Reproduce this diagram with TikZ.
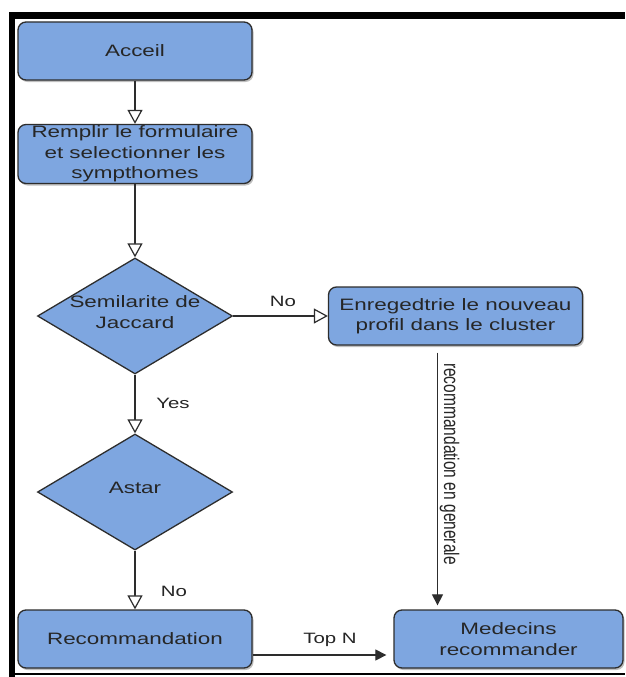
\documentclass[tikz,border=0pt]{standalone}
\usepackage{fontspec}
\usepackage{graphicx}
\setmainfont{Liberation Sans}[FakeStretch=1.36]
\newfontfamily\plainsans{Liberation Sans}
\usetikzlibrary{arrows.meta,shapes.geometric,shadows}

\definecolor{boxfill}{RGB}{126,166,224}
\definecolor{edge}{RGB}{45,45,45}
\definecolor{ink}{RGB}{38,38,38}

\tikzset{
  boxtext/.style={font=\fontsize{16.5}{20.5}\selectfont, text=ink, align=center},
  stepbox/.style={boxtext, draw=edge, line width=1.3pt, fill=boxfill,
    rounded corners=8pt, inner sep=0pt,
    drop shadow={shadow xshift=1.5pt, shadow yshift=-2pt, opacity=0.45, fill=black!55}},
  decision/.style={diamond, draw=edge, line width=1.3pt, fill=boxfill,
    inner sep=0pt, aspect=1.68, minimum width=195pt, minimum height=116pt},
  flowlabel/.style={font=\fontsize{15}{18}\selectfont, text=ink},
  openarrow/.style={draw=edge, line width=1.2pt,
    -{Triangle[open, length=14pt, width=15pt, fill=white]}},
  fillarrow/.style={draw=edge, line width=1.2pt,
    -{Triangle[length=11pt, width=11pt]}},
  frameline/.style={draw=black, line cap=butt}
}

\begin{document}
\begin{tikzpicture}[x=1pt, y=-1pt]
  \useasboundingbox (0,0) rectangle (625,677);
  \fill[white] (0,0) rectangle (625,677);

  % outer frame
  \draw[frameline, line width=7pt] (9,16) -- (625,16);
  \draw[frameline, line width=6.5pt] (12,12.5) -- (12,677);
  \draw[frameline, line width=1.5pt] (9,674) -- (625,674);

  % steps
  \node[stepbox, minimum width=234pt, minimum height=58pt] (acc) at (135,51) {Acceil};
  \node[stepbox, minimum width=234pt, minimum height=59pt] (form) at (135,154)
    {Remplir le formulaire\\et selectionner les\\sympthomes};
  \node[decision] (jac) at (135,316) {};
  \node[boxtext] (jact) at (135,312) {Semilarite de\\Jaccard};
  \node[stepbox, minimum width=254pt, minimum height=58pt] (enr) at (455.5,316)
    {Enregedtrie le nouveau\\profil dans le cluster};
  \node[decision] (ast) at (135,492) {};
  \node[boxtext] (astt) at (135,488) {Astar};
  \node[stepbox, minimum width=234pt, minimum height=58pt] (rec) at (135,639)
    {Recommandation};
  \node[stepbox, minimum width=229pt, minimum height=58pt] (med) at (508.5,639)
    {Medecins\\recommander};

  % connectors
  \draw[openarrow] (acc.south) -- (form.north);
  \draw[openarrow] (form.south) -- (jac.north);
  \draw[openarrow] (jac.east) -- (enr.west);
  \draw[openarrow] (jac.south) -- (ast.north);
  \draw[openarrow] (ast.south) -- (rec.north);
  \draw[fillarrow, shorten >=7pt] ([yshift=-16pt]rec.east) -- ([yshift=-16pt]rec.east -| med.west);
  \coordinate (gx) at (437.5,0);
  \draw[fillarrow, shorten <=7pt, shorten >=4pt] (enr.south -| gx) -- (med.north -| gx);

  % connector labels
  \node[flowlabel] (lno1) at (283,301) {No};
  \node[flowlabel] (lyes) at (173,403) {Yes};
  \node[flowlabel] (lno2) at (174,591) {No};
  \node[flowlabel] (ltop) at (330,640) {Top N};
  \node[text=ink, rotate=-90, inner sep=0pt] (lgen) at (449.5,464)
    {\scalebox{1}[1.36]{\plainsans\fontsize{15.5}{18}\selectfont recommandation en generale}};
\end{tikzpicture}
\end{document}
